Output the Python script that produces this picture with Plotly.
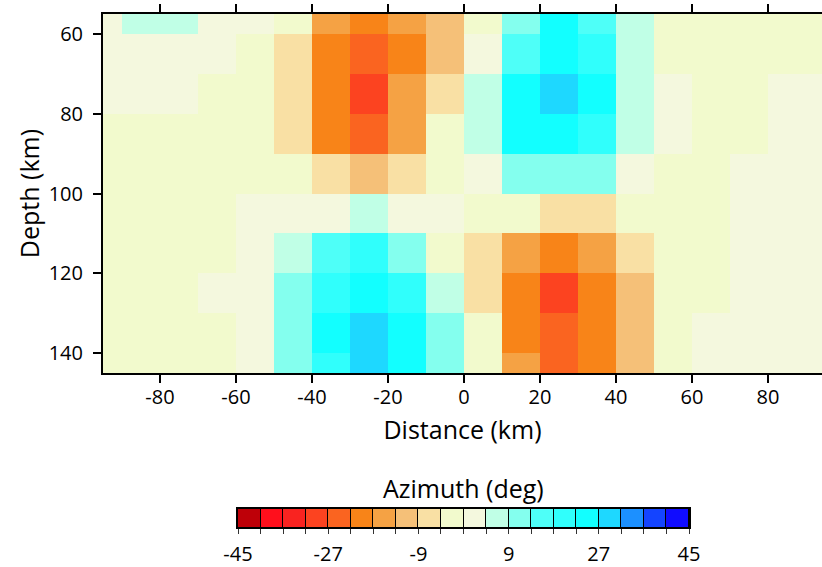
import plotly.graph_objects as go

# Grid cell edges (km)
distance_edges = list(range(-100, 101, 10))
depth_edges = list(range(50, 151, 10))

# Azimuth anomaly (deg), one row per depth cell (centre depth in name)
az_d55 = [2, 7, 7, 2, 2, -2, -16, -20, -16, -11, -2, 11, 25, 16, 7, -2, -2, -2, -2, -2]
az_d65 = [2, 2, 2, 2, -2, -7, -20, -25, -20, -11, 2, 16, 25, 20, 7, -2, -2, -2, -2, -2]
az_d75 = [2, 2, 2, -2, -2, -7, -20, -29, -16, -7, 7, 25, 29, 25, 7, 2, -2, -2, 2, 2]
az_d85 = [-2, -2, -2, -2, -2, -7, -20, -25, -16, -2, 7, 25, 25, 20, 7, 2, -2, -2, 2, 2]
az_d95 = [-2, -2, -2, -2, -2, -2, -7, -11, -7, -2, 2, 11, 11, 11, 2, -2, -2, 2, 2, 2]
az_d105 = [-2, -2, -2, -2, 2, 2, 2, 7, 2, 2, -2, -2, -7, -7, -2, -2, -2, 2, 2, 2]
az_d115 = [-2, -2, -2, -2, 2, 7, 16, 20, 11, -2, -7, -16, -20, -16, -7, -2, -2, 2, 2, 2]
az_d125 = [-2, -2, -2, 2, 2, 11, 20, 25, 20, 7, -7, -20, -29, -20, -11, -2, -2, 2, 2, 2]
az_d135 = [-2, -2, -2, -2, 2, 11, 25, 29, 25, 11, -2, -20, -25, -20, -11, -2, 2, 2, 2, 2]
az_d145 = [-2, -2, -2, -2, 2, 11, 20, 29, 25, 11, -2, -16, -25, -20, -11, -2, 2, 2, 2, 2]

azimuth = [az_d55, az_d65, az_d75, az_d85, az_d95,
           az_d105, az_d115, az_d125, az_d135, az_d145]

x_ticks = list(range(-80, 81, 20))
x_ticktext = [str(v) for v in x_ticks]
y_ticks = list(range(60, 141, 20))

# Discrete palette: 20 bins of 4.5 deg from -45 to 45
bin_colors = ['#BE0008', '#FF0F1C', '#F92320', '#FC4320', '#FA6420',
              '#F88418', '#F5A244', '#F5C078', '#F9E0A4', '#F2FACD',
              '#F4F8DE', '#C0FFE6', '#84FFEE', '#4EFFF8', '#30FFFC',
              '#12FFFF', '#1ED8FF', '#1C90FF', '#1444FF', '#100CFF']
cb_min, cb_max = -45, 45
cb_step = 4.5
cb_edges = [cb_min + cb_step * i for i in range(21)]
cb_centers = [(a + b) / 2 for a, b in zip(cb_edges[:-1], cb_edges[1:])]
cb_labels = {-45: '-45', -27: '-27', -9: '-9', 9: '9', 27: '27', 45: '45'}
cb_ticktext = [cb_labels.get(round(v), '') if abs(v - round(v)) < 1e-9 else '' for v in cb_edges]

n = len(bin_colors)
colorscale = []
for i, c in enumerate(bin_colors):
    colorscale.append([i / n, c])
    colorscale.append([(i + 1) / n, c])

FONT = 'Open Sans'
W, H = 822, 567
ML, MR, MT, MB = 103, 0, 14, 0
plot_w, plot_h = W - ML - MR, H - MT - MB


def xfrac(px):
    return (px - ML) / plot_w


def yfrac(py):
    return (H - MB - py) / plot_h


fig = go.Figure()
# main section
fig.add_trace(go.Heatmap(x=distance_edges, y=depth_edges, z=azimuth,
                         colorscale=colorscale, zmin=cb_min, zmax=cb_max,
                         showscale=False, hoverinfo='skip',
                         xaxis='x', yaxis='y'))
# colour scale bar
fig.add_trace(go.Heatmap(x=cb_edges, y=[0, 1], z=[cb_centers],
                         colorscale=colorscale, zmin=cb_min, zmax=cb_max,
                         showscale=False, hoverinfo='skip', xgap=1,
                         xaxis='x2', yaxis='y2'))

fig.add_annotation(text='Azimuth (deg)', xref='paper', yref='paper',
                   x=(xfrac(238) + xfrac(689)) / 2, y=yfrac(488),
                   xanchor='center', yanchor='middle',
                   showarrow=False, font=dict(family=FONT, size=25, color='black'))

fig.update_layout(
    width=W, height=H,
    margin=dict(l=ML, r=MR, t=MT, b=MB, autoexpand=False),
    paper_bgcolor='white', plot_bgcolor='black',
    font=dict(family=FONT, color='black'),
    xaxis=dict(domain=[0, 1], anchor='y', range=[-95, 94.2],
               tickmode='array', tickvals=x_ticks, ticktext=x_ticktext,
               ticks='outside', ticklen=8, tickwidth=1.5, tickcolor='black',
               showline=True, linewidth=2, linecolor='black', mirror='ticks',
               showgrid=False, zeroline=False, ticklabelstandoff=-3,
               tickfont=dict(family=FONT, size=20),
               title=dict(text='Distance (km)', font=dict(family=FONT, size=25), standoff=12)),
    yaxis=dict(domain=[yfrac(373), 1], anchor='x', range=[145, 55],
               tickmode='array', tickvals=y_ticks,
               ticks='outside', ticklen=8, tickwidth=1.5, tickcolor='black',
               showline=True, linewidth=2, linecolor='black', mirror=False,
               showgrid=False, zeroline=False, ticklabelstandoff=6,
               tickfont=dict(family=FONT, size=20),
               title=dict(text='Depth (km)', font=dict(family=FONT, size=25), standoff=2)),
    xaxis2=dict(domain=[xfrac(238), xfrac(689)], anchor='y2', range=[cb_min, cb_max],
                tickmode='array', tickvals=cb_edges, ticktext=cb_ticktext,
                ticks='outside', ticklen=5, tickwidth=1.2, tickcolor='#333',
                showline=True, linewidth=1.5, linecolor='black', mirror=True,
                showgrid=False, zeroline=False, ticklabelstandoff=3,
                tickfont=dict(family=FONT, size=20)),
    yaxis2=dict(domain=[yfrac(527), yfrac(509)], anchor='x2', range=[0, 1],
                showticklabels=False, ticks='',
                showline=True, linewidth=1.5, linecolor='black', mirror=True,
                showgrid=False, zeroline=False),
)

fig.write_html('out.html', config={'displayModeBar': False},
               post_script="document.body.style.margin='0';document.body.style.overflow='hidden';")
